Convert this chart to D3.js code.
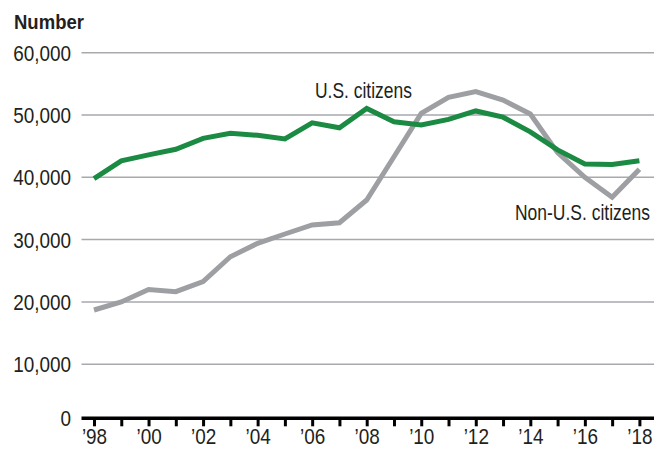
<!DOCTYPE html>
<html>
<head>
<meta charset="utf-8">
<script src="https://cdn.jsdelivr.net/npm/d3@7"></script>
<style>
  html, body { margin: 0; padding: 0; background: #fff; }
  svg { display: block; }
  text { font-family: "Liberation Sans", Arial, sans-serif; fill: #231f20; }
</style>
</head>
<body>
<svg id="chart" width="663" height="452"></svg>
<script>
const years = [1998,1999,2000,2001,2002,2003,2004,2005,2006,2007,2008,2009,2010,2011,2012,2013,2014,2015,2016,2017,2018];
const usCitizens = [39800,42650,43600,44500,46250,47050,46750,46150,48750,47950,51050,48900,48400,49300,50650,49650,47300,44400,42150,42050,42650];
const nonUsCitizens = [18700,20000,22000,21650,23250,27250,29400,30900,32350,32700,36350,43300,50250,52850,53750,52400,50150,43950,40000,36800,41300];
const yTicks = [10000,20000,30000,40000,50000,60000];
const xTickLabels = ["’98","’00","’02","’04","’06","’08","’10","’12","’14","’16","’18"];

const svg = d3.select("#chart");
const x = d3.scaleLinear().domain([1998, 2018]).range([94, 639.4]);
const y = d3.scaleLinear().domain([0, 60000]).range([426.5, 52.7]);
const baseY = 418.3;
const left = 81.5, right = 654;
const NUM_SQUEEZE = 0.86;

// place a text horizontally condensed (mimics a condensed typeface)
function squeezedText(parent, tx, ty, str, opts) {
  const t = parent.append("text")
    .attr("transform", `translate(${tx},${ty})`)
    .attr("font-size", opts.size)
    .attr("text-anchor", opts.anchor || "start")
    .attr("dy", opts.dy || null)
    .attr("font-weight", opts.weight || null)
    .text(str);
  let f = opts.factor;
  if (opts.width) f = opts.width / t.node().getComputedTextLength();
  t.attr("transform", `translate(${tx},${ty}) scale(${f},1)`);
  return t;
}

// gridlines
svg.append("g").selectAll("line").data(yTicks).join("line")
  .attr("x1", left).attr("x2", right)
  .attr("y1", d => y(d)).attr("y2", d => y(d))
  .attr("stroke", "#a7a9ac").attr("stroke-width", 1.5);

// y labels
const fmt = d3.format(",");
const gy = svg.append("g");
yTicks.forEach(v => squeezedText(gy, 71, y(v), fmt(v), {size: 22, anchor: "end", dy: "0.36em", factor: NUM_SQUEEZE}));
squeezedText(gy, 71, baseY, "0", {size: 22, anchor: "end", dy: "0.36em", factor: NUM_SQUEEZE});

// title
squeezedText(svg, 14, 29, "Number", {size: 21, weight: "bold", width: 70});

// x axis
const xAxis = d3.axisBottom(x)
  .tickValues(d3.range(1998, 2019, 1))
  .tickSize(8).tickPadding(2)
  .tickFormat(d => (d % 2 === 0) ? xTickLabels[(d - 1998) / 2] : "");
const gx = svg.append("g").attr("transform", `translate(0,${baseY})`).call(xAxis);
gx.select(".domain").remove();
gx.selectAll(".tick line").attr("stroke", "#000").attr("stroke-width", 3);
gx.selectAll(".tick text").attr("font-size", 22).attr("fill", "#231f20")
  .style("font-family", "\"Liberation Sans\", Arial, sans-serif")
  .attr("dy", "0.72em")
  .attr("transform", `scale(${NUM_SQUEEZE},1)`);
gx.append("line").attr("x1", left).attr("x2", right).attr("y1", 0).attr("y2", 0)
  .attr("stroke", "#000").attr("stroke-width", 3.5);

// lines
const line = d3.line().x((d, i) => x(years[i])).y(d => y(d));
svg.append("path").datum(nonUsCitizens).attr("d", line)
  .attr("fill", "none").attr("stroke", "#9d9fa2").attr("stroke-width", 5)
  .attr("stroke-linejoin", "miter");
svg.append("path").datum(usCitizens).attr("d", line)
  .attr("fill", "none").attr("stroke", "#1b8a43").attr("stroke-width", 5)
  .attr("stroke-linejoin", "miter");

// labels
squeezedText(svg, 315, 98, "U.S. citizens", {size: 22, width: 97});
squeezedText(svg, 515, 220, "Non-U.S. citizens", {size: 22, width: 135});
</script>
</body>
</html>
